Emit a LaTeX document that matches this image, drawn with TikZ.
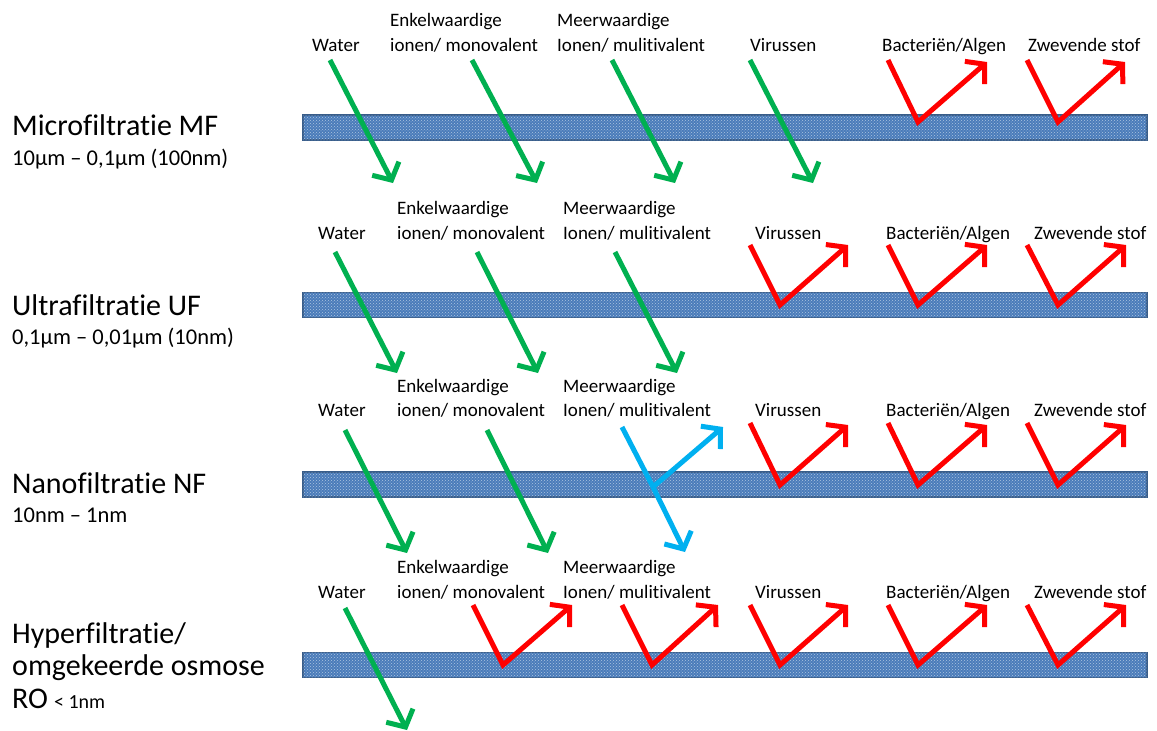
\documentclass[tikz,border=0pt]{standalone}
\usepackage{fontspec}
\setmainfont{Carlito}[Ligatures=NoCommon]
\usetikzlibrary{arrows.meta,patterns}
\definecolor{passgreen}{HTML}{00B050}
\definecolor{rejred}{HTML}{FF0000}
\definecolor{partblue}{HTML}{00B0F0}
\definecolor{barfill}{HTML}{4A7CBA}
\definecolor{barline}{HTML}{385D8A}
\tikzset{
  membrane/.style={draw=barline, line width=1.5pt, fill=barfill, minimum width=844pt, minimum height=25pt, inner sep=0pt, postaction={pattern=crosshatch dots, pattern color=white!55!barfill}},
  lbl/.style={font=\fontsize{19}{25}\selectfont, anchor=base west, inner sep=0pt},
  big/.style={font=\fontsize{30}{33}\selectfont, anchor=base west, inner sep=0pt},
  sub/.style={font=\fontsize{22.5}{26}\selectfont, anchor=base west, inner sep=0pt},
  arr/.style={line width=5pt, -{Straight Barb[length=13pt,width=30pt,line width=5pt]}},
  passarr/.style={arr, draw=passgreen},
  rejarr/.style={arr, draw=rejred},
  partarr/.style={arr, draw=partblue},
}
\begin{document}
\begin{tikzpicture}[x=1pt,y=-1pt]
\useasboundingbox (0,0) rectangle (1157,731);
\fill[white] (0,0) rectangle (1157,731);
% membranes
\node[membrane] (m1) at (725,127.5) {};
\node[membrane] (m2) at (725,305) {};
\node[membrane] (m3) at (725,484.5) {};
\node[membrane] (m4) at (725,665) {};
% left labels (base lines)
\node[big] (t1) at (12,135) {Microfiltratie MF};
\node[sub] (s1) at (12,165) {10μm – 0,1μm (100nm)};
\node[big] (t2) at (12,315) {Ultrafiltratie UF};
\node[sub] (s2) at (12,344) {0,1μm – 0,01μm (10nm)};
\node[big] (t3) at (12,493) {Nanofiltratie NF};
\node[sub] (s3) at (12,522) {10nm – 1nm};
\node[big] (t4a) at (12,643) {Hyperfiltratie/};
\node[big] (t4b) at (12,675) {omgekeerde osmose};
\node[big] (t4c) at (12,708) {RO\hspace{6pt}{\fontsize{20}{22}\selectfont < 1nm}};
% row labels
\foreach \r/\yw/\ya/\xw/\xe/\xm/\xv/\xb/\xz in {1/51.5/26.5/312/390/557/750/882/1028, 2/239.5/214.5/318/397/563/755/886/1034, 3/416.5/392/318/397/563/755/886/1034, 4/598.5/573.5/318/397/563/755/886/1034}{
  \node[lbl] (w\r) at (\xw,\yw) {Water};
  \node[lbl] (e\r a) at (\xe,\ya) {Enkelwaardige};
  \node[lbl] (e\r b) at (\xe,\yw) {ionen/ monovalent};
  \node[lbl] (mv\r a) at (\xm,\ya) {Meerwaardige};
  \node[lbl] (mv\r b) at (\xm,\yw) {Ionen/ mulitivalent};
  \node[lbl] (v\r) at (\xv,\yw) {Virussen};
  \node[lbl] (b\r) at (\xb,\yw) {Bacteriën/Algen};
  \node[lbl] (z\r) at (\xz,\yw) {Zwevende stof};
}
% row 1
\coordinate (a1s) at (330,60); \coordinate (a1e) at (393,183);
\draw[passarr] (a1s) -- (a1e);
\coordinate (a2s) at (472,60); \coordinate (a2e) at (537,183);
\draw[passarr] (a2s) -- (a2e);
\coordinate (a3s) at (612,60); \coordinate (a3e) at (675,183);
\draw[passarr] (a3s) -- (a3e);
\coordinate (a4s) at (750,60); \coordinate (a4e) at (813,183);
\draw[passarr] (a4s) -- (a4e);
\coordinate (r11s) at (888,60); \coordinate (r11v) at (918,122); \coordinate (r11e) at (987,62);
\draw[rejarr] (r11s) -- (r11v) -- (r11e);
\coordinate (r12s) at (1027,60); \coordinate (r12v) at (1058,122); \coordinate (r12e) at (1125,62);
\draw[rejarr] (r12s) -- (r12v) -- (r12e);
% row 2
\coordinate (b1s) at (335,252); \coordinate (b1e) at (397,373);
\draw[passarr] (b1s) -- (b1e);
\coordinate (b2s) at (477,252); \coordinate (b2e) at (538,373);
\draw[passarr] (b2s) -- (b2e);
\coordinate (b3s) at (615,252); \coordinate (b3e) at (677,373);
\draw[passarr] (b3s) -- (b3e);
\coordinate (r21s) at (750,245); \coordinate (r21v) at (780,305); \coordinate (r21e) at (848,245);
\draw[rejarr] (r21s) -- (r21v) -- (r21e);
\coordinate (r22s) at (888,245); \coordinate (r22v) at (918,305); \coordinate (r22e) at (987,245);
\draw[rejarr] (r22s) -- (r22v) -- (r22e);
\coordinate (r23s) at (1027,245); \coordinate (r23v) at (1058,305); \coordinate (r23e) at (1126,245);
\draw[rejarr] (r23s) -- (r23v) -- (r23e);
% row 3
\coordinate (c1s) at (345,430); \coordinate (c1e) at (407,553);
\draw[passarr] (c1s) -- (c1e);
\coordinate (c2s) at (487,430); \coordinate (c2e) at (548,553);
\draw[passarr] (c2s) -- (c2e);
\coordinate (c3s) at (622,427); \coordinate (c3v) at (653,487);
\coordinate (c3d) at (685,552); \coordinate (c3u) at (723,427);
\draw[partblue, line width=5pt] (c3s) -- (c3v);
\draw[partarr] (c3v) -- (c3d);
\draw[partarr] (c3v) -- (c3u);
\coordinate (r31s) at (750,423); \coordinate (r31v) at (780,485); \coordinate (r31e) at (848,425);
\draw[rejarr] (r31s) -- (r31v) -- (r31e);
\coordinate (r32s) at (888,423); \coordinate (r32v) at (918,485); \coordinate (r32e) at (987,425);
\draw[rejarr] (r32s) -- (r32v) -- (r32e);
\coordinate (r33s) at (1027,423); \coordinate (r33v) at (1058,485); \coordinate (r33e) at (1126,425);
\draw[rejarr] (r33s) -- (r33v) -- (r33e);
% row 4
\coordinate (d1s) at (345,608); \coordinate (d1e) at (407,730);
\draw[passarr] (d1s) -- (d1e);
\coordinate (r41s) at (473,605); \coordinate (r41v) at (503,665); \coordinate (r41e) at (572,605);
\draw[rejarr] (r41s) -- (r41v) -- (r41e);
\coordinate (r42s) at (622,605); \coordinate (r42v) at (652,665); \coordinate (r42e) at (718,605);
\draw[rejarr] (r42s) -- (r42v) -- (r42e);
\coordinate (r43s) at (750,605); \coordinate (r43v) at (780,665); \coordinate (r43e) at (848,605);
\draw[rejarr] (r43s) -- (r43v) -- (r43e);
\coordinate (r44s) at (888,605); \coordinate (r44v) at (918,665); \coordinate (r44e) at (987,605);
\draw[rejarr] (r44s) -- (r44v) -- (r44e);
\coordinate (r45s) at (1027,605); \coordinate (r45v) at (1058,665); \coordinate (r45e) at (1126,605);
\draw[rejarr] (r45s) -- (r45v) -- (r45e);
\end{tikzpicture}
\end{document}
